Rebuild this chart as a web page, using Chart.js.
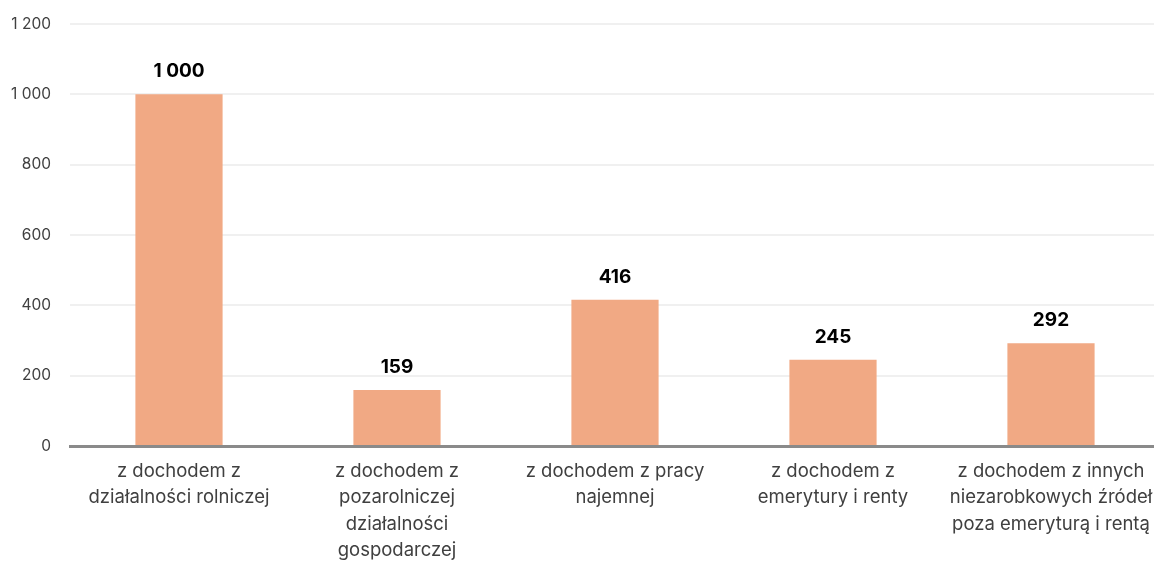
<!DOCTYPE html>
<html lang="pl">
<head>
  <meta charset="UTF-8">
  <title>Gospodarstwa domowe według źródła dochodu</title>
  <style>
    html, body { margin: 0; padding: 0; background: #fff; overflow: hidden; }
    .wykres { position: relative; width: 1160px; height: 580px; }
  </style>
</head>
<body>
<div class="wykres">
  <canvas id="graficoDochody"></canvas>
</div>

<script src="https://cdn.jsdelivr.net/npm/chart.js"></script>
<script>
  // kategorie i wartości
  const kategorie = [
    ['z dochodem z', 'działalności rolniczej'],
    ['z dochodem z', 'pozarolniczej', 'działalności', 'gospodarczej'],
    ['z dochodem z pracy', 'najemnej'],
    ['z dochodem z', 'emerytury i renty'],
    ['z dochodem z innych', 'niezarobkowych źródeł', 'poza emeryturą i rentą']
  ];
  const wartosci = [1000, 159, 416, 245, 292];
  const osY = { min: 0, max: 1200, krok: 200 };

  const formatuj = v => String(v).replace(/\B(?=(\d{3})+(?!\d))/g, ' ');

  const czcionka = '"Inter", "Noto Sans", sans-serif';

  // etykiety wartości nad słupkami
  const etykiety = {
    id: 'etykiety',
    afterDatasetsDraw(chart) {
      const ctx = chart.ctx;
      const meta = chart.getDatasetMeta(0);
      ctx.save();
      ctx.font = 'bold 19px ' + czcionka;
      ctx.fillStyle = '#000';
      ctx.textAlign = 'center';
      ctx.textBaseline = 'alphabetic';
      meta.data.forEach((bar, i) => {
        ctx.fillText(formatuj(wartosci[i]), bar.x, bar.y - 17);
      });
      ctx.restore();
    }
  };

  const ctx = document.getElementById('graficoDochody').getContext('2d');
  new Chart(ctx, {
    type: 'bar',
    data: {
      labels: kategorie,
      datasets: [{
        data: wartosci,
        backgroundColor: '#f1a984',
        categoryPercentage: 1,
        barPercentage: 0.4
      }]
    },
    plugins: [etykiety],
    options: {
      responsive: true,
      maintainAspectRatio: false,
      animation: false,
      layout: { padding: { top: 24, right: 0, bottom: 0, left: 0 } },
      plugins: {
        legend: { display: false },
        tooltip: { enabled: false }
      },
      scales: {
        x: {
          grid: { display: false, drawTicks: false },
          border: { color: '#8a8a8a', width: 3 },
          ticks: {
            color: '#404040',
            font: { family: czcionka, size: 18.5, lineHeight: 1.43 },
            padding: 12,
            maxRotation: 0,
            autoSkip: false
          },
          // ostatnia etykieta może wychodzić poza prawą krawędź
          afterFit(scale) {
            scale.height = 134;
            scale.paddingLeft = 0;
            scale.paddingRight = 0;
          }
        },
        y: {
          min: osY.min,
          max: osY.max,
          grid: { color: '#f0f0f0', lineWidth: 2, drawTicks: false },
          border: { display: false },
          ticks: {
            stepSize: osY.krok,
            color: '#404040',
            font: { family: czcionka, size: 15.5 },
            padding: 19,
            callback: v => formatuj(v)
          },
          afterFit(scale) {
            scale.width = 70;
            scale.paddingTop = 0;
            scale.paddingBottom = 0;
          }
        }
      }
    }
  });
</script>
</body>
</html>
